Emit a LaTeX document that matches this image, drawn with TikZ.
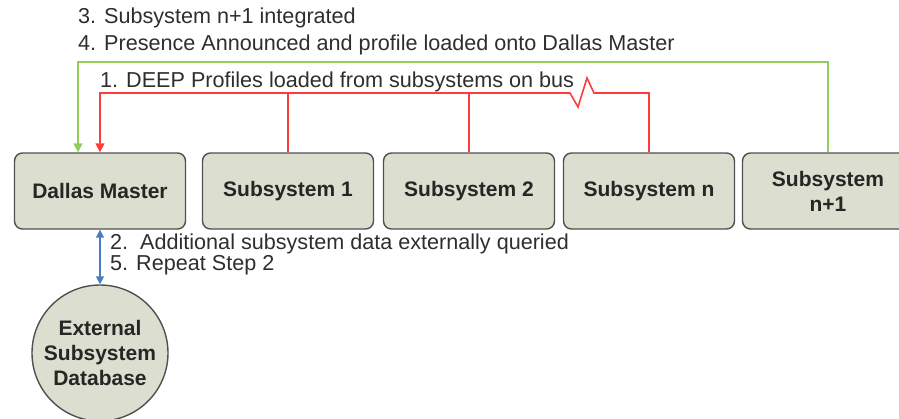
\documentclass[tikz,border=0pt]{standalone}
\usepackage{fontspec}
\setmainfont{Liberation Sans}
\usetikzlibrary{calc,positioning,arrows.meta}
\definecolor{unitfill}{HTML}{DCDFCF}
\definecolor{unitedge}{HTML}{505050}
\definecolor{busred}{HTML}{FF3B3B}
\definecolor{newgreen}{HTML}{93CC5A}
\definecolor{queryblue}{HTML}{4A7CC0}
\definecolor{labelgrey}{HTML}{2E2E2E}

\begin{document}
\begin{tikzpicture}[x=1pt, y=-1pt,
    unit/.style={draw=unitedge, line width=1.4pt, fill=unitfill, rounded corners=8pt,
      minimum width=171pt, minimum height=76pt, align=center, text=black!85,
      font=\fontsize{21}{25}\selectfont\bfseries},
    store/.style={unit, circle, rounded corners=0pt, minimum size=136pt, inner sep=0pt},
    steplabel/.style={anchor=west, inner sep=0pt, text=labelgrey,
      text height=15.5pt, text depth=4.5pt, font=\fontsize{21.6}{24}\selectfont},
    bus/.style={draw=busred, line width=1.6pt},
    announce/.style={draw=newgreen, line width=1.6pt},
    query/.style={draw=queryblue, line width=1.6pt}]
  \useasboundingbox (0,0) rectangle (899,418);

  % units on the bus
  \node[unit] (master) at (100,191) {Dallas Master};
  \node[unit] (sub1) at (288,191) {Subsystem 1};
  \node[unit] (sub2) at (469,191) {Subsystem 2};
  \node[unit] (subn) at (649,191) {Subsystem n};
  \node[unit] (subnew) at (828,191) {Subsystem\\n+1};
  \node[store] (extdb) at (100,353) {External\\Subsystem\\Database};

  % step texts
  \node[steplabel] (step3) at (78,18) {3. Subsystem n+1 integrated};
  \node[steplabel] (step4) at (78,45) {4. Presence Announced and profile loaded onto Dallas Master};
  \node[steplabel] (step1) at (100,82) {1. DEEP Profiles loaded from subsystems on bus};
  \node[steplabel] (step2) at (110,244) {2.\ \ Additional subsystem data externally queried};
  \node[steplabel] (step5) at (110,265) {5. Repeat Step 2};

  \coordinate (zig) at (582,93);
  \coordinate (greentop) at (0,62);

  % profile bus, with break
  \draw[bus, -{Triangle[length=9pt,width=9pt]}] (subn.north) |- ([xshift=12pt]zig)
    -- ++(-7,-15) -- ++(-9,29) -- ++(-8,-14) -| (master.north);
  \draw[bus] (sub1.north) -- (sub1.north |- zig);
  \draw[bus] (sub2.north) -- (sub2.north |- zig);

  % new subsystem announced
  \draw[announce, -{Triangle[length=9pt,width=9pt]}] (subnew.north)
    |- ([xshift=-22pt]master.north |- greentop) -- ([xshift=-22pt]master.north);

  % external query
  \draw[query, {Triangle[length=8pt,width=8pt]}-{Triangle[length=8pt,width=8pt]}]
    (master.south) -- (extdb.north);
\end{tikzpicture}
\end{document}
